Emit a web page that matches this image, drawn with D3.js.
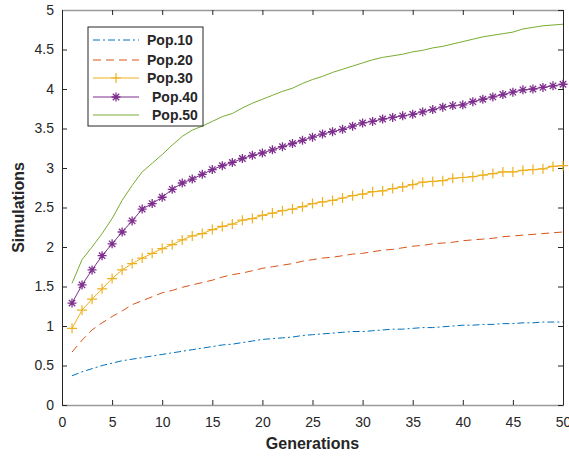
<!DOCTYPE html>
<html lang="en">
<head>
<meta charset="utf-8" />
<title>Simulations vs Generations</title>
<script src="https://cdn.jsdelivr.net/npm/d3@7"></script>
<style>
	body { margin: 0; background: #fff; }
	text { font-family: Arial, "Liberation Sans", Helvetica, sans-serif; fill: #262626; }
	.axis path, .axis line { stroke: #262626; }
	.axis.horiz path { stroke: #9a9a9a; stroke-width: 1.5px; }
	.line { fill: none; stroke-width: 1; }
</style>
</head>
<body>
<div id="chart"></div>
<script>
// generations 1..50
var generations = d3.range(1, 51);

var pop10 = [0.37, 0.42, 0.46, 0.50, 0.53, 0.56, 0.58, 0.60, 0.62, 0.64,
	0.66, 0.68, 0.70, 0.72, 0.74, 0.76, 0.77, 0.79, 0.81, 0.83,
	0.84, 0.85, 0.86, 0.88, 0.89, 0.90, 0.91, 0.92, 0.93, 0.93,
	0.94, 0.95, 0.96, 0.96, 0.97, 0.98, 0.98, 0.99, 1.00, 1.01,
	1.01, 1.02, 1.02, 1.03, 1.03, 1.04, 1.04, 1.05, 1.05, 1.05];

var pop20 = [0.67, 0.82, 0.95, 1.04, 1.12, 1.19, 1.27, 1.32, 1.37, 1.42,
	1.45, 1.49, 1.52, 1.55, 1.58, 1.62, 1.65, 1.67, 1.70, 1.73,
	1.75, 1.77, 1.79, 1.82, 1.84, 1.86, 1.87, 1.89, 1.91, 1.92,
	1.94, 1.96, 1.97, 1.99, 2.01, 2.02, 2.04, 2.05, 2.06, 2.08,
	2.09, 2.10, 2.11, 2.13, 2.14, 2.15, 2.16, 2.17, 2.18, 2.19];

var pop30 = [0.97, 1.20, 1.34, 1.47, 1.60, 1.71, 1.79, 1.86, 1.92, 1.98,
	2.03, 2.09, 2.14, 2.17, 2.22, 2.26, 2.29, 2.34, 2.36, 2.40,
	2.43, 2.46, 2.48, 2.51, 2.55, 2.57, 2.59, 2.62, 2.65, 2.67,
	2.70, 2.71, 2.74, 2.76, 2.79, 2.82, 2.83, 2.84, 2.87, 2.88,
	2.89, 2.91, 2.93, 2.95, 2.95, 2.97, 2.98, 2.99, 3.02, 3.03];

var pop40 = [1.29, 1.52, 1.71, 1.89, 2.04, 2.19, 2.33, 2.48, 2.55, 2.63,
	2.73, 2.81, 2.86, 2.92, 2.98, 3.03, 3.07, 3.12, 3.16, 3.19,
	3.23, 3.27, 3.31, 3.35, 3.39, 3.43, 3.46, 3.49, 3.53, 3.57,
	3.59, 3.62, 3.64, 3.66, 3.68, 3.71, 3.74, 3.77, 3.79, 3.80,
	3.84, 3.87, 3.90, 3.93, 3.96, 3.99, 4.00, 4.02, 4.04, 4.06];

var pop50 = [1.54, 1.84, 2.00, 2.17, 2.36, 2.59, 2.78, 2.95, 3.06, 3.17,
	3.29, 3.40, 3.48, 3.53, 3.59, 3.65, 3.69, 3.76, 3.82, 3.87,
	3.92, 3.97, 4.01, 4.07, 4.12, 4.16, 4.21, 4.25, 4.29, 4.33,
	4.37, 4.40, 4.42, 4.44, 4.47, 4.49, 4.52, 4.54, 4.57, 4.60,
	4.63, 4.66, 4.68, 4.70, 4.72, 4.76, 4.78, 4.80, 4.81, 4.82];

var xTicks = d3.range(0, 51, 5);
var yTicks = d3.range(0, 5.01, 0.5);

var series = [
	{ name: "Pop.10", values: pop10, color: "#0072BD", dash: "7,3,2,3", marker: null },
	{ name: "Pop.20", values: pop20, color: "#D95319", dash: "8,5", marker: null },
	{ name: "Pop.30", values: pop30, color: "#EDB120", dash: null, marker: "plus" },
	{ name: "Pop.40", values: pop40, color: "#7E2F8E", dash: null, marker: "star" },
	{ name: "Pop.50", values: pop50, color: "#77AC30", dash: null, marker: null }
];

var margin = { top: 10, right: 6, bottom: 51, left: 62 };
var width = 569 - margin.left - margin.right;
var height = 456 - margin.top - margin.bottom;

var svg = d3.select("#chart")
	.append("svg")
	.attr("width", 569)
	.attr("height", 456);

var g = svg.append("g")
	.attr("transform", "translate(" + margin.left + "," + margin.top + ")");

var x = d3.scaleLinear().domain([0, 50]).range([0, width]);
var y = d3.scaleLinear().domain([0, 5]).range([height, 0]);

// axes, ticks inside, box on
function styleAxis(sel) {
	sel.selectAll("text").style("font-size", "14px").attr("fill", "#262626");
}

g.append("g")
	.attr("class", "axis horiz")
	.attr("transform", "translate(0," + height + ")")
	.call(d3.axisBottom(x).tickValues(xTicks).tickSizeInner(-5).tickSizeOuter(0).tickPadding(12))
	.call(styleAxis);

g.append("g")
	.attr("class", "axis")
	.call(d3.axisLeft(y).tickValues(yTicks).tickSizeInner(-5).tickSizeOuter(0).tickPadding(8).tickFormat(d3.format("")))
	.call(styleAxis);

g.append("g")
	.attr("class", "axis horiz")
	.call(d3.axisTop(x).tickValues(xTicks).tickSizeInner(-5).tickSizeOuter(0).tickFormat(""));

g.append("g")
	.attr("class", "axis")
	.attr("transform", "translate(" + width + ",0)")
	.call(d3.axisRight(y).tickValues(yTicks).tickSizeInner(-5).tickSizeOuter(0).tickFormat(""));

// axis labels
g.append("text")
	.attr("x", width / 2)
	.attr("y", height + 44)
	.attr("text-anchor", "middle")
	.style("font-size", "16px")
	.style("font-weight", "bold")
	.text("Generations");

g.append("text")
	.attr("transform", "translate(" + (-38) + "," + (height / 2) + ") rotate(-90)")
	.attr("text-anchor", "middle")
	.style("font-size", "16px")
	.style("font-weight", "bold")
	.text("Simulations");

var line = d3.line()
	.x(function (d, i) { return x(generations[i]); })
	.y(function (d) { return y(d); });

function drawMarker(sel, type, color) {
	if (type === "plus") {
		sel.append("path")
			.attr("d", "M-5,0H5M0,-5V5")
			.attr("stroke", color)
			.attr("stroke-width", 1.2)
			.attr("fill", "none");
	} else if (type === "star") {
		sel.append("path")
			.attr("d", "M-4.5,0H4.5M0,-4.5V4.5M-3.2,-3.2L3.2,3.2M-3.2,3.2L3.2,-3.2")
			.attr("stroke", color)
			.attr("stroke-width", 1.3)
			.attr("fill", "none");
	}
}

var plot = g.append("g");

series.forEach(function (s) {
	plot.append("path")
		.datum(s.values)
		.attr("class", "line")
		.attr("stroke", s.color)
		.attr("stroke-dasharray", s.dash)
		.attr("d", line);

	if (s.marker) {
		plot.append("g")
			.selectAll("g")
			.data(s.values)
			.join("g")
			.attr("transform", function (d, i) {
				return "translate(" + x(generations[i]) + "," + y(d) + ")";
			})
			.each(function () { drawMarker(d3.select(this), s.marker, s.color); });
	}
});

// legend
var legend = svg.append("g").attr("transform", "translate(88,27)");

legend.append("rect")
	.attr("width", 115)
	.attr("height", 99)
	.attr("fill", "#fff")
	.attr("stroke", "#262626")
	.attr("stroke-width", 1);

var rowY = [13, 33, 51, 70, 88];
var textX = [59, 59, 59, 64, 64];

series.forEach(function (s, i) {
	var row = legend.append("g").attr("transform", "translate(0," + rowY[i] + ")");
	row.append("line")
		.attr("x1", 5)
		.attr("x2", 51)
		.attr("stroke", s.color)
		.attr("stroke-width", 1)
		.attr("stroke-dasharray", s.dash);
	if (s.marker) {
		drawMarker(row.append("g").attr("transform", "translate(28,0)"), s.marker, s.color);
	}
	row.append("text")
		.attr("x", textX[i])
		.attr("dy", "0.35em")
		.style("font-size", "14px")
		.style("font-weight", "bold")
		.text(s.name);
});
</script>
</body>
</html>
